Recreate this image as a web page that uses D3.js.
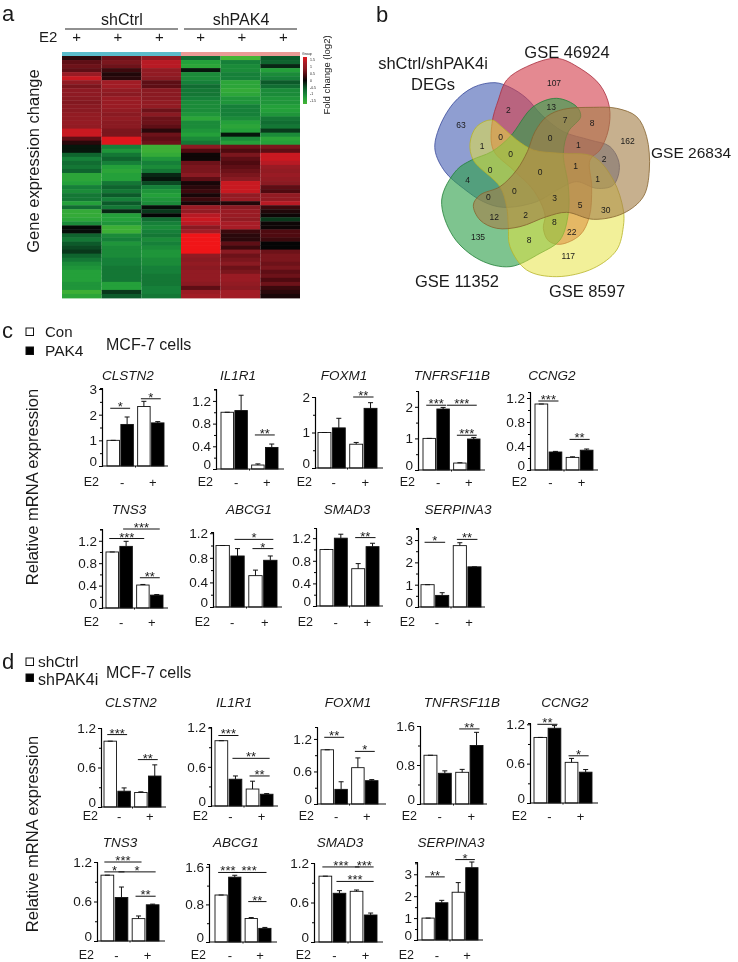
<!DOCTYPE html>
<html>
<head>
<meta charset="utf-8">
<script src="https://cdn.jsdelivr.net/npm/d3@7"></script>
<style>
  html, body { margin: 0; padding: 0; background: #fff; }
  svg { display: block; filter: blur(0.45px); }
  text { font-family: "Liberation Sans", Arial, sans-serif; fill: #1a1a1a; }
  .heat { filter: blur(0.7px); }
</style>
</head>
<body>
<div id="chart"></div>
<script>
// panel a: fold change per sample, one array per column, top row first
var heatCol1 = [.2,.5,.6,.5,1.0,1.4,.9,.7,.85,.85,.8,.75,.8,.8,.9,.9,.95,.9,1.4,1.4,.5,.2,
  -.1,-.1,-.6,-.9,-.7,-.8,-.6,-1.3,-1.3,-1.2,-.9,-1.0,-.8,-.8,-1.2,-.7,-1.4,-1.4,-1.3,-1.0,-.03,-.05,-.6,-.8,-.5,-.4,-.3,-.6,-.8,-1.0,-1.1,-1.2,-1.2,-1.2,-1.1,-1.1,-1.5,-1.3];
var heatCol2 = [.6,.7,.6,.3,.15,.2,1.1,1.1,.9,.8,1.0,1.0,1.0,.9,.8,.9,.8,.8,.7,.7,1.6,1.6,
  -.9,-1.1,-.8,-.6,-.9,-1.2,-1.3,-1.2,-1.2,-.8,-.6,-.8,-.5,-.9,-.5,-.8,-.2,-1.2,-1.2,-1.1,-1.5,-1.5,-1.0,-.9,-1.1,-1.0,-1.0,-1.0,-.9,-.9,-.8,-.8,-.8,-.8,-1.2,-1.2,-.3,-.5];
var heatCol3 = [.9,1.3,1.3,.9,.9,.8,.5,.5,.8,.8,.8,.9,.9,.6,.8,.6,.6,.5,.2,.6,.5,.6,
  -1.5,-1.5,-1.4,-1.1,-.9,-1.0,-.8,-.2,-.1,-.4,-.9,-1.1,-1.2,-1.1,-1.0,-.05,-.3,0,-.7,-.9,-1.0,-.9,-.8,-1.0,-.9,-1.0,-1.1,-1.1,-1.0,-1.0,-.9,-.9,-.8,-.8,-.8,-.9,-.9,-.8];
var heatCol4 = [-.7,-1.2,-1.3,-.1,-1.0,-1.0,-.9,-.7,-.8,-.8,-.9,-1.0,-1.0,-1.0,-1.1,-1.3,-1.0,-1.0,-1.1,-1.2,-1.0,-.8,
  .8,.4,.05,.05,.6,.7,.7,.8,.5,.1,.2,.3,.1,.3,.1,1.0,.9,1.3,1.4,1.3,.8,1.1,1.9,1.9,1.9,1.9,1.9,.9,.8,.9,.8,.9,.9,.9,.8,.5,1.0,1.1];
var heatCol5 = [-1.6,-.9,-1.0,-1.0,-.9,-.9,-1.3,-1.3,-1.4,-1.3,-1.1,-1.1,-.9,-.9,-.9,-1.0,-1.2,-1.3,-1.2,-.1,-1.0,-1.2,
  .6,.4,.7,.5,.4,.5,.6,.7,.8,1.4,1.4,1.4,.9,1.0,.15,.8,1.0,1.0,.9,1.2,1.2,.3,.2,.2,.5,.3,.8,.6,.7,.8,.6,.7,1.0,1.0,.9,.8,1.1,1.1];
var heatCol6 = [-.5,-.6,-.2,-1.2,-1.0,-.9,-.5,-.7,-1.0,-1.0,-1.1,-1.1,-1.2,-1.2,-1.1,-.8,-.7,-.8,-.3,-1.0,-1.3,-1.2,
  .7,.5,1.4,1.4,1.3,1.0,.9,1.0,.9,.8,.5,.4,.9,.9,1.3,.3,.15,.05,-.3,.05,.05,.4,.4,.3,0,0,.6,.7,.7,.6,.7,.5,.6,.4,.6,.3,.2,.1];
var heatCols = [heatCol1, heatCol2, heatCol3, heatCol4, heatCol5, heatCol6];
var heatTicks = [1.5, 1, 0.5, 0, -0.5, -1, -1.5];

// panel b: the counts printed in the regions
var vennCounts = ["107","2","13","7","8","63","1","0","0","1","162","2","1","0","0","0","1","4","0","0","3","5","30","12","2","8","22","135","8","117"];

// panels c and d: values, order -/Con, -/PAK4, +/Con, +/PAK4
var genes = ["CLSTN2","IL1R1","FOXM1","TNFRSF11B","CCNG2","TNS3","ABCG1","SMAD3","SERPINA3"];
var cBars = [[1,1.62,2.32,1.68],[1,1.03,.07,.38],[1,1.13,.67,1.68],[1,1.93,.22,.98],[1.1,.3,.21,.33],[1,1.1,.41,.23],[1,.83,.51,.76],[1,1.2,.66,1.05],[1,.52,2.75,1.8]];
var cErrTop = [[1,1.91,2.52,1.73],[1,1.3,.09,.44],[1,1.4,.72,1.84],[1,1.98,.23,1.03],[1.1,.31,.22,.35],[1,1.19,.42,.24],[1,.95,.6,.83],[1,1.27,.75,1.11],[1,.64,2.88,1.8]];
var cMax = [3.04,1.41,2,2.5,1.3,1.41,1.22,1.38,3.54];
var cTicks = [[0,1,2,3],[0,.4,.8,1.2],[0,1,2],[0,1,2],[0,.4,.8,1.2],[0,.4,.8,1.2],[0,.4,.8,1.2],[0,.4,.8,1.2],[0,1,2,3]];
var cSig = [
  [[0,1,2.25,"*"],[2,3,2.62,"*"]],
  [[2,3,.6,"**"]],
  [[2,3,2,"**"]],
  [[0,1,2.05,"***"],[1.4,3,2.05,"***"],[2,3,1.1,"***"]],
  [[0,1,1.15,"***"],[2,3,.51,"**"]],
  [[0,1.9,1.24,"***"],[1,3,1.41,"***"],[2,3,.54,"**"]],
  [[1,3,1.1,"*"],[2,3,.95,"*"]],
  [[2,3,1.21,"**"]],
  [[0,1,2.9,"*"],[2,3,3.03,"**"]]
];
var dBars = [[1,.24,.22,.47],[1,.41,.26,.18],[1,.27,.67,.43],[1,.63,.65,1.2],[1,1.14,.62,.47],[1,.66,.34,.55],[1,1.38,.5,.29],[1,.74,.77,.41],[1,1.7,2.18,3.3]];
var dErrTop = [[1,.29,.23,.64],[1,.46,.38,.19],[1,.41,.85,.45],[1,.68,.71,1.47],[1,1.18,.68,.51],[1,.82,.38,.56],[1,1.42,.52,.31],[1,.78,.79,.44],[1,1.81,2.62,3.56]];
var dMax = [1.2,1.21,1.42,1.6,1.22,1.2,1.66,1.2,3.56];
var dTicks = [[0,.6,1.2],[0,.6,1.2],[0,.6,1.2],[0,.8,1.6],[0,.6,1.2],[0,.6,1.2],[0,.8,1.6],[0,.6,1.2],[0,1,2,3]];
var dSig = [
  [[0,1,1.1,"***"],[2,3,.72,"**"]],
  [[0,1,1.08,"***"],[1,3,.73,"**"],[2,3,.46,"**"]],
  [[0,1,1.23,"**"],[2,3,.97,"*"]],
  [[2,3,1.54,"**"]],
  [[0,1,1.2,"**"],[2,3,.72,"*"]],
  [[0,2,1.2,"***"],[0,1,1.05,"*"],[1,3,1.05,"*"],[2,3,.68,"**"]],
  [[0,1,1.48,"***"],[1,2.9,1.48,"***"],[2,2.9,.86,"**"]],
  [[0,2,1.14,"***"],[2.1,3,1.14,"***"],[1,3,.92,"***"]],
  [[0,1,2.88,"**"],[2,3,3.67,"*"]]
];

// layout only: axis x, first bar left, last bar right, baseline end, baseline y, axis top y, title x, row
var cLayout = [
  [102,107,164,168,466,388,128,0],[216,221,278,284,469,389,238,0],[315,318,377,383,468,397,344,0],[418,423,480,485,470,391,452,0],[530,535,593,598,470,392,552,0],
  [102,106,163,168,608,529,129,1],[213,216,277,282,607,532,249,1],[316,320,379,383,606,528,347,1],[418,421,481,485,607,528,458,1]
];
var dLayout = [
  [101,104,161,166,807,728,131,2],[211,215,273,278,806,727,234,2],[317,321,378,386,804,727,348,2],[420,424,483,487,804,726,462,2],[530,534,592,598,803,723,565,2],
  [97,101,159,165,941,862,120,3],[209,215,271,277,942,864,236,3],[314,319,377,383,942,863,340,3],[417,422,478,483,940,862,451,3]
];
var titleRowY = [375, 509, 702, 842];
var e2RowY = [482, 622, 816, 955];

var svg = d3.select("#chart").append("svg")
    .attr("width", 738)
    .attr("height", 962);

function label(x, y, str, size, anchor) {
  return svg.append("text")
      .attr("x", x)
      .attr("y", y)
      .attr("dy", ".35em")
      .attr("text-anchor", anchor || "start")
      .style("font-size", size + "px")
      .text(str);
}

function vlabel(x, y, str, size) {
  return svg.append("text")
      .attr("transform", "translate(" + x + "," + y + ") rotate(-90)")
      .attr("dy", ".35em")
      .attr("text-anchor", "middle")
      .style("font-size", size + "px")
      .text(str);
}

// ---------- panel a
label(2, 13, "a", 22);
label(122, 19, "shCtrl", 16, "middle");
label(241, 19, "shPAK4", 16, "middle");
label(39, 37, "E2", 15);
svg.append("line").attr("x1", 65).attr("x2", 178).attr("y1", 29).attr("y2", 29).attr("stroke", "#222").attr("stroke-width", 1.2);
svg.append("line").attr("x1", 184).attr("x2", 297).attr("y1", 29).attr("y2", 29).attr("stroke", "#222").attr("stroke-width", 1.2);
vlabel(33, 161, "Gene expression change", 16.5);

var heatX = d3.scaleBand().domain(d3.range(6)).range([62, 300]);
var heatY = d3.scaleBand().domain(d3.range(heatCol1.length)).range([56, 298]);
var plusX = d3.scaleBand().domain(d3.range(6)).range([56, 304]);
var heatColor = d3.scaleLinear()
    .domain([-1.6, -1.2, -.9, -.5, 0, .4, .8, 1.2, 1.5, 1.9])
    .range(["#45b435", "#24a03a", "#168039", "#0c5a2a", "#050505", "#4f0a10", "#8a1a22", "#a81c26", "#d8171f", "#f01518"])
    .clamp(true);

var heatG = svg.append("g").attr("class", "heat");
d3.range(6).forEach(function(c) {
  label(plusX(c) + plusX.bandwidth() / 2, 37, "+", 15, "middle");
  heatG.append("g").selectAll("rect")
      .data(heatCols[c])
    .enter().append("rect")
      .attr("x", heatX(c))
      .attr("y", function(d, i) { return heatY(i); })
      .attr("width", heatX.bandwidth())
      .attr("height", heatY.bandwidth() + .4)
      .attr("fill", function(d) { return heatColor(d); });
});
svg.append("rect").attr("x", 62).attr("y", 52).attr("width", 119).attr("height", 4).attr("fill", "#5bbccb");
svg.append("rect").attr("x", 181).attr("y", 52).attr("width", 119).attr("height", 4).attr("fill", "#eb9a96");

var gradient = svg.append("defs").append("linearGradient")
    .attr("id", "foldgrad").attr("x1", 0).attr("x2", 0).attr("y1", 0).attr("y2", 1);
gradient.selectAll("stop")
    .data(d3.range(1.6, -1.7, -.2))
  .enter().append("stop")
    .attr("offset", function(d, i) { return (i / 16 * 100) + "%"; })
    .attr("stop-color", function(d) { return heatColor(d); });
svg.append("rect").attr("x", 303).attr("y", 57).attr("width", 4).attr("height", 47).attr("fill", "url(#foldgrad)");
var legendY = d3.scaleLinear().domain([1.5, -1.5]).range([60, 101]);
svg.append("g").selectAll("text")
    .data(heatTicks)
  .enter().append("text")
    .attr("x", 310)
    .attr("y", function(d) { return legendY(d); })
    .attr("dy", ".35em")
    .style("font-size", "3.5px")
    .text(function(d) { return d; });
label(302, 54, "Group", 3.5);
vlabel(327, 75, "Fold change (log2)", 9.5);

// ---------- panel b
label(376, 14, "b", 22);
var petalBlue = [[405,248],[450,262],[500,295],[545,345],[610,395],[690,420],[750,440],[778,495],[760,555],[710,565],[650,545],[600,565],[530,605],[430,622],[370,605],[310,565],[255,515],[225,450],[235,390],[280,310],[340,262]];
var petalRed = [[440,240],[500,200],[590,175],[660,205],[720,255],[748,320],[745,390],[720,450],[690,480],[695,560],[688,650],[660,705],[600,733],[565,722],[550,685],[555,645],[520,570],[460,510],[400,450],[396,370],[415,300]];
var petalBrown = [[560,350],[610,328],[700,322],[770,325],[830,350],[860,410],[868,510],[850,590],[790,640],[700,658],[620,637],[560,650],[480,680],[410,685],[360,660],[340,615],[360,585],[420,560],[470,510],[502,455],[525,395]];
var petalYellow = [[790,680],[770,750],[700,805],[590,830],[500,810],[450,740],[445,680],[440,620],[420,560],[340,480],[330,430],[350,380],[395,360],[430,385],[470,420],[520,450],[600,460],[700,470],[760,540],[790,630]];
var petalGreen = [[245,600],[290,510],[335,480],[395,455],[450,410],[520,320],[590,295],[650,320],[662,350],[625,395],[610,460],[625,560],[625,640],[600,720],[540,760],[450,800],[360,780],[280,710]];
var petals = [
  {pts: petalBlue, fill: "#4b62b4", stroke: "#3a4a9a", op: .62},
  {pts: petalRed, fill: "#d4404e", stroke: "#a83040", op: .62},
  {pts: petalGreen, fill: "#2f9f4b", stroke: "#238038", op: .62},
  {pts: petalYellow, fill: "#e6e23c", stroke: "#b8b428", op: .52},
  {pts: petalBrown, fill: "#a57f48", stroke: "#85632f", op: .62}
];
var vennX = d3.scaleLinear().domain([0, 960]).range([360, 680]);
var vennY = d3.scaleLinear().domain([0, 930]).range([0, 310]);
var petalLine = d3.line()
    .x(function(d) { return vennX(d[0]); })
    .y(function(d) { return vennY(d[1]); })
    .curve(d3.curveCatmullRomClosed.alpha(.5));
svg.append("g").selectAll("path")
    .data(petals)
  .enter().append("path")
    .attr("d", function(d) { return petalLine(d.pts); })
    .attr("fill", function(d) { return d.fill; })
    .attr("fill-opacity", function(d) { return d.op; })
    .attr("stroke", function(d) { return d.stroke; })
    .attr("stroke-width", .8);
var vennSpots = [[582,248],[445,330],[574,320],[615,360],[696,368],[303,375],[366,437],[422,412],[570,413],[655,436],[803,424],[732,477],[713,537],[452,461],[390,510],[540,517],[647,497],[323,541],[385,591],[463,574],[584,594],[660,615],[737,630],[403,651],[497,645],[583,665],[635,696],[354,711],[507,720],[625,767]];
svg.append("g").selectAll("text")
    .data(vennCounts)
  .enter().append("text")
    .attr("x", function(d, i) { return vennX(vennSpots[i][0]); })
    .attr("y", function(d, i) { return vennY(vennSpots[i][1]); })
    .attr("dy", ".35em")
    .attr("text-anchor", "middle")
    .style("font-size", "8.5px")
    .text(function(d) { return d; });
label(567, 52, "GSE 46924", 16.5, "middle");
label(433, 63, "shCtrl/shPAK4i", 16.5, "middle");
label(433, 84, "DEGs", 16.5, "middle");
label(651, 153, "GSE 26834", 15.5);
label(457, 281, "GSE 11352", 16.5, "middle");
label(587, 291, "GSE 8597", 16.5, "middle");

// ---------- panels c and d
function drawPanel(i, values, errTop, maxVal, ticks, sig, layout) {
  var lay = layout[i];
  var axisX = lay[0], barL = lay[1], barR = lay[2], endX = lay[3], base = lay[4], top = lay[5], titleX = lay[6], row = lay[7];
  var y = d3.scaleLinear().domain([0, maxVal[i]]).range([base, top]);
  var groupX = d3.scaleBand().domain(["-", "+"]).range([barL, barR]).paddingInner(.14);
  var innerX = d3.scaleBand().domain([0, 1]).range([0, groupX.bandwidth()]).paddingInner(.1);
  function barX(k) { return groupX(k < 2 ? "-" : "+") + innerX(k % 2); }
  var centers = d3.scaleLinear().domain([0, 1, 2, 3]).range(d3.range(4).map(function(k) { return barX(k) + innerX.bandwidth() / 2; }));
  var g = svg.append("g");

  // minor ticks sit halfway between the labelled ones
  var step = ticks[i][1] - ticks[i][0];
  var minor = d3.range(step / 2, maxVal[i], step);
  g.append("g")
      .attr("transform", "translate(" + axisX + ",0)")
      .call(d3.axisLeft(y).tickValues(minor).tickSize(2).tickSizeOuter(2).tickFormat(""));
  var axisG = g.append("g")
      .attr("transform", "translate(" + axisX + ",0)")
      .call(d3.axisLeft(y).tickValues(ticks[i]).tickSize(3).tickSizeOuter(0).tickPadding(2).tickFormat(d3.format("~g")));
  axisG.selectAll("text")
      .style("font-size", "13.5px")
      .attr("dy", function(d) { return d === 0 ? "-.05em" : ".32em"; });
  g.selectAll(".domain").attr("stroke-width", 1.1);

  g.selectAll(".bar")
      .data(values[i])
    .enter().append("rect")
      .attr("class", "bar")
      .attr("x", function(d, k) { return barX(k); })
      .attr("y", function(d) { return y(d); })
      .attr("width", innerX.bandwidth())
      .attr("height", function(d) { return base - y(d); })
      .attr("fill", function(d, k) { return k % 2 ? "#000" : "#fff"; })
      .attr("stroke", "#111")
      .attr("stroke-width", .9);

  g.selectAll(".err")
      .data(errTop[i])
    .enter().append("path")
      .attr("class", "err")
      .attr("d", function(d, k) {
        var cx = centers(k);
        return "M" + cx + "," + y(values[i][k]) + "V" + y(d) + "M" + (cx - 2.5) + "," + y(d) + "H" + (cx + 2.5);
      })
      .attr("fill", "none")
      .attr("stroke", "#111")
      .attr("stroke-width", 1);

  g.append("line")
      .attr("x1", axisX).attr("x2", endX)
      .attr("y1", base).attr("y2", base)
      .attr("stroke", "#111").attr("stroke-width", 1.2);
  g.append("line")
      .attr("x1", (centers(1) + centers(2)) / 2).attr("x2", (centers(1) + centers(2)) / 2)
      .attr("y1", base).attr("y2", base + 1.5)
      .attr("stroke", "#111");

  sig[i].forEach(function(s) {
    var x1 = centers(s[0]) - 3, x2 = centers(s[1]) + 3;
    g.append("line")
        .attr("x1", x1).attr("x2", x2)
        .attr("y1", y(s[2])).attr("y2", y(s[2]))
        .attr("stroke", "#111").attr("stroke-width", 1);
    g.append("text")
        .attr("x", (x1 + x2) / 2)
        .attr("y", y(s[2]) + 3)
        .attr("text-anchor", "middle")
        .style("font-size", "13px")
        .text(s[3]);
  });

  svg.append("text")
      .attr("x", titleX)
      .attr("y", titleRowY[row])
      .attr("dy", ".35em")
      .attr("text-anchor", "middle")
      .style("font-size", "13.5px")
      .style("font-style", "italic")
      .text(genes[i]);
  label(axisX - 3, e2RowY[row], "E2", 12.5, "end");
  label(groupX("-") + groupX.bandwidth() / 2 + 2, e2RowY[row], "-", 13, "middle");
  label(groupX("+") + groupX.bandwidth() / 2 + 2, e2RowY[row], "+", 13, "middle");
}

genes.forEach(function(gene, i) {
  drawPanel(i, cBars, cErrTop, cMax, cTicks, cSig, cLayout);
  drawPanel(i, dBars, dErrTop, dMax, dTicks, dSig, dLayout);
});

function swatch(x, y, fill) {
  svg.append("rect")
      .attr("x", x).attr("y", y)
      .attr("width", 7.5).attr("height", 7.5)
      .attr("fill", fill)
      .attr("stroke", "#111");
}

label(2, 330, "c", 22);
swatch(26, 328, "#fff");
swatch(26, 347, "#000");
label(45, 332, "Con", 15);
label(45, 351, "PAK4", 15.5);
label(106, 344, "MCF-7 cells", 16);
vlabel(32, 487, "Relative mRNA expression", 16.5);

label(2, 661, "d", 22);
swatch(26, 658, "#fff");
swatch(26, 674, "#000");
label(38, 662, "shCtrl", 15.5);
label(38, 679, "shPAK4i", 16);
label(106, 672, "MCF-7 cells", 16);
vlabel(32, 834, "Relative mRNA expression", 16.5);
</script>
</body>
</html>
